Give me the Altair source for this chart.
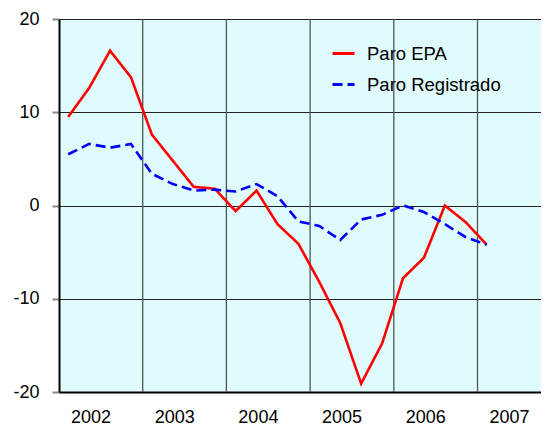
import altair as alt
import pandas as pd

# ---- data ----
period_year = [2002] * 4 + [2003] * 4 + [2004] * 4 + [2005] * 4 + [2006] * 4 + [2007]
period_quarter = [1, 2, 3, 4] * 5 + [1]
paro_epa = [9.5, 12.6, 16.6, 13.75, 7.6, 4.8, 2.0, 1.8, -0.6, 1.6, -2.0, -4.1,
            -8.2, -12.6, -19.1, -14.8, -7.8, -5.6, 0.0, -1.8, -4.2]
paro_registrado = [5.5, 6.6, 6.2, 6.6, 3.4, 2.3, 1.6, 1.7, 1.5, 2.3, 1.0, -1.7,
                   -2.2, -3.7, -1.5, -1.0, 0.0, -0.7, -2.0, -3.4, -4.2]
series_names = ["Paro EPA", "Paro Registrado"]
year_boundaries = [2003, 2004, 2005, 2006, 2007]
year_labels = [2002, 2003, 2004, 2005, 2006, 2007]
y_ticks = [-20, -10, 0, 10, 20]

Q_OFFSET = 0.11   # position of a quarter inside its year band
LBL_OFFSET = 0.376

rows = []
for name, vals in zip(series_names, [paro_epa, paro_registrado]):
    for y, q, v in zip(period_year, period_quarter, vals):
        rows.append({"t": y + (q - 1) / 4 + Q_OFFSET, "v": v, "serie": name})
df = pd.DataFrame(rows)
bounds = pd.DataFrame({"t": year_boundaries})

PLOT_W = 482
x_scale = alt.Scale(domain=[2002, 2002 + PLOT_W / 83.7], nice=False, zero=False)
y_scale = alt.Scale(domain=[-20, 20], nice=False)

x_axis = alt.Axis(values=[y + LBL_OFFSET for y in year_labels],
                  labelExpr="format(floor(datum.value), 'd')",
                  title=None, grid=False, ticks=False,
                  domainColor="black", domainWidth=2,
                  labelPadding=16, labelFontSize=18, labelFlush=False,
                  labelFont="Liberation Sans", labelColor="black")

vlines = alt.Chart(bounds).mark_rule(color="#4d5555", strokeWidth=1.3).encode(
    x=alt.X("t:Q", scale=x_scale, axis=x_axis)
)

lines = alt.Chart(df).mark_line(strokeWidth=2.6).encode(
    x=alt.X("t:Q", scale=x_scale, axis=x_axis),
    y=alt.Y("v:Q", scale=y_scale,
            axis=alt.Axis(values=y_ticks, title=None, grid=True,
                          labelExpr="datum.value + ''",
                          gridColor="#222222", gridWidth=1,
                          tickSize=7, tickColor="#888888", tickWidth=2,
                          domainColor="black", domainWidth=2,
                          labelPadding=13, labelFontSize=18,
                          labelFont="Liberation Sans", labelColor="black")),
    color=alt.Color("serie:N",
                    scale=alt.Scale(domain=series_names, range=["#ff0000", "#0000ff"]),
                    legend=alt.Legend(title=None, orient="none", legendX=272, legendY=22,
                                      symbolType="stroke", symbolSize=484,
                                      symbolStrokeWidth=3, labelFontSize=18.5,
                                      labelFont="Liberation Sans", labelColor="black",
                                      labelOffset=11, rowPadding=9)),
    strokeDash=alt.StrokeDash("serie:N",
                              scale=alt.Scale(domain=series_names, range=[[1, 0], [10, 5]]),
                              legend=None),
)

chart = alt.layer(vlines, lines).properties(
    width=PLOT_W, height=373,
    autosize=alt.AutoSizeParams(type="none"),
    padding={"left": 51, "top": 11, "right": 0, "bottom": 40},
).configure_view(fill="#e0fbfb", stroke=None)

chart.save("out.html", embed_options={"renderer": "svg", "actions": False})
